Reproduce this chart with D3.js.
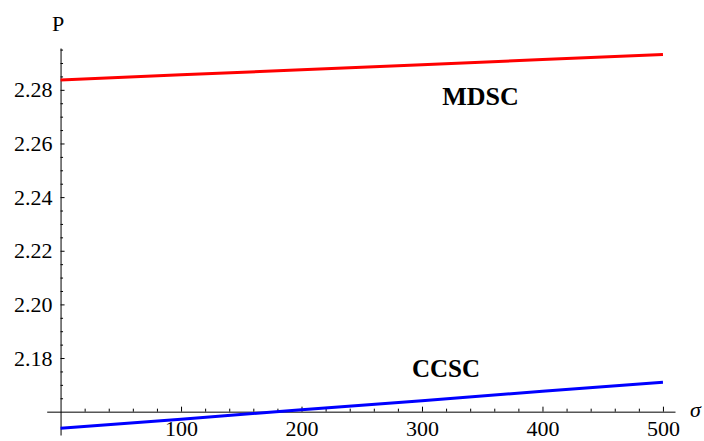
<!DOCTYPE html>
<html>
<head>
<meta charset="utf-8">
<script src="https://cdn.jsdelivr.net/npm/d3@7"></script>
<style>
  body { margin: 0; background: #fff; }
  svg { display: block; }
</style>
</head>
<body>
<svg id="chart"></svg>
<script>
// values
const sigma = [0, 100, 200, 300, 400, 500];
const mdsc = [2.2837, 2.2856, 2.2875, 2.2894, 2.2913, 2.2932];
const ccsc = [2.1538, 2.1572, 2.1607, 2.1641, 2.1676, 2.1710];
const xTicks = [100, 200, 300, 400, 500];
const yTicks = [2.18, 2.20, 2.22, 2.24, 2.26, 2.28];
const xMinor = d3.range(20, 501, 20).filter(v => v % 100 !== 0);
const yMinor = d3.range(2.165, 2.2951, 0.005).filter(v => Math.abs(v * 50 - Math.round(v * 50)) > 1e-6);

const serif = "'Liberation Serif', 'Times New Roman', Times, serif";
const width = 704, height = 441;
const svg = d3.select('#chart')
  .attr('width', width)
  .attr('height', height);

const x = d3.scaleLinear().domain([-11.5, 510]).range([46.7, 675]);
const y = d3.scaleLinear().domain([2.1513, 2.2956]).range([435, 48]);

const axisY0 = y(2.16);
const axisX0 = x(0);

// x axis (ticks point up into the plot)
svg.append('g')
  .attr('class', 'axis')
  .attr('transform', `translate(0,${axisY0})`)
  .call(d3.axisBottom(x).tickValues(xTicks).tickSizeInner(-5).tickSizeOuter(0).tickPadding(9).tickFormat(d3.format('d')));

svg.append('g')
  .attr('transform', `translate(0,${axisY0})`)
  .call(d3.axisBottom(x).tickValues(xMinor).tickSizeInner(-3).tickSizeOuter(0).tickFormat(''))
  .select('.domain').remove();

// y axis (ticks point right into the plot)
svg.append('g')
  .attr('class', 'axis')
  .attr('transform', `translate(${axisX0},0)`)
  .call(d3.axisLeft(y).tickValues(yTicks).tickSizeInner(-4).tickSizeOuter(0).tickPadding(8).tickFormat(d3.format('.2f')));

svg.append('g')
  .attr('transform', `translate(${axisX0},0)`)
  .call(d3.axisLeft(y).tickValues(yMinor).tickSizeInner(-2.5).tickSizeOuter(0).tickFormat(''))
  .select('.domain').remove();

svg.selectAll('.domain, .tick line').attr('stroke', '#000').attr('stroke-width', 1);
svg.selectAll('.axis .tick text')
  .style('font-family', serif)
  .style('font-size', '22px')
  .attr('fill', '#000');

// series lines
const line = d3.line()
  .x((d, i) => x(sigma[i]))
  .y(d => y(d));

svg.append('path')
  .datum(mdsc)
  .attr('d', line)
  .attr('fill', 'none')
  .attr('stroke', '#ff0000')
  .attr('stroke-width', 3);

svg.append('path')
  .datum(ccsc)
  .attr('d', line)
  .attr('fill', 'none')
  .attr('stroke', '#0000ff')
  .attr('stroke-width', 3);

// axis labels
svg.append('text')
  .attr('x', 58)
  .attr('y', 31)
  .attr('text-anchor', 'middle')
  .style('font-family', serif)
  .style('font-size', '22px')
  .text('P');

svg.append('text')
  .attr('x', 690)
  .attr('y', 417)
  .style('font-family', serif)
  .style('font-style', 'italic')
  .style('font-size', '22px')
  .text('σ');

// series labels
svg.append('text')
  .attr('x', 480.5)
  .attr('y', 104.5)
  .attr('text-anchor', 'middle')
  .style('font-family', serif)
  .style('font-weight', 'bold')
  .style('font-size', '26px')
  .text('MDSC');

svg.append('text')
  .attr('x', 446)
  .attr('y', 376.7)
  .attr('text-anchor', 'middle')
  .style('font-family', serif)
  .style('font-weight', 'bold')
  .style('font-size', '25px')
  .text('CCSC');
</script>
</body>
</html>
